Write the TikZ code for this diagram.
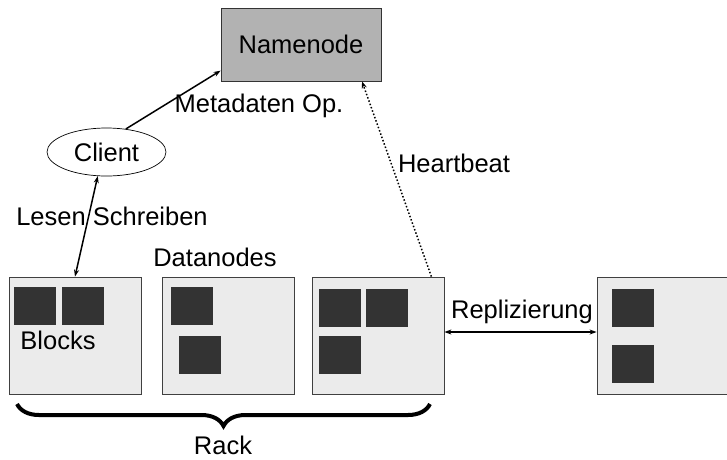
\documentclass[tikz,border=0pt]{standalone}
\usepackage{fontspec}
\setmainfont{Liberation Sans}
\usetikzlibrary{arrows.meta,decorations.pathreplacing,shapes.geometric}
\begin{document}
\begin{tikzpicture}[x=1pt,y=-1pt,
  every node/.style={font=\fontsize{25.5}{28}\selectfont, inner sep=0pt},
  dnode/.style={draw=black!75, line width=0.8pt, fill=black!8, minimum width=132pt, minimum height=117pt},
  blk/.style={draw=black!80, line width=0.6pt, fill=black!80, minimum width=41pt, minimum height=37pt},
  conn/.style={line width=1.5pt},
  tip/.style={-{Stealth[length=7pt,width=5pt]}},
  dtip/.style={{Stealth[length=7pt,width=5pt]}-{Stealth[length=7pt,width=5pt]}}
]
\useasboundingbox (0,0) rectangle (727,459);
% Namenode
\node[draw=black!80, line width=0.8pt, fill=black!30, minimum width=160pt, minimum height=73pt] (nn) at (301,44.5) {Namenode};
% Client
\node[draw, ellipse, line width=0.7pt, minimum width=119pt, minimum height=48pt] (cl) at (106.5,152) {Client};
% Datanodes
\node[dnode] (b1) at (75,335.5) {};
\node[dnode] (b2) at (228,335.5) {};
\node[dnode] (b3) at (378,335.5) {};
\node[dnode] (b4) at (663,335.5) {};
% Blocks
\node[blk] (k11) at (35,305.5) {};
\node[blk] (k12) at (82.5,305.5) {};
\node[blk] (k21) at (191.5,305.5) {};
\node[blk] (k22) at (200,354.5) {};
\node[blk] (k31) at (339.5,307.5) {};
\node[blk] (k32) at (386.5,307.5) {};
\node[blk] (k33) at (339.5,354.5) {};
\node[blk] (k41) at (633,307.5) {};
\node[blk] (k42) at (633,363.5) {};
% Labels
\node (lmeta) at (259,106) {Metadaten Op.};
\node (lheart) at (454,163) {Heartbeat};
\node (lles) at (112,216) {Lesen Schreiben};
\node (ldata) at (215,257) {Datanodes};
\node (lblocks) at (58,340) {Blocks};
\node (lrep) at (522,312) {Replizierung};
\node (lrack) at (223,445) {Rack};
% Connectors
\draw[conn,tip] (cl.50) -- (nn.198);
\draw[conn,dtip] (cl.250) -- (b1.north);
\draw[line width=1.5pt, dotted, tip] ([xshift=-13pt]b3.north east) -- ([xshift=61pt]nn.south);
\draw[conn,dtip] ([yshift=3.5pt]b3.east) -- ([yshift=3.5pt]b4.west);
% Brace
\coordinate (bl) at (17,404);
\coordinate (br) at (430,404);
\draw[line width=4pt, decorate, decoration={brace, amplitude=22pt}] (br) -- (bl);
\end{tikzpicture}
\end{document}
